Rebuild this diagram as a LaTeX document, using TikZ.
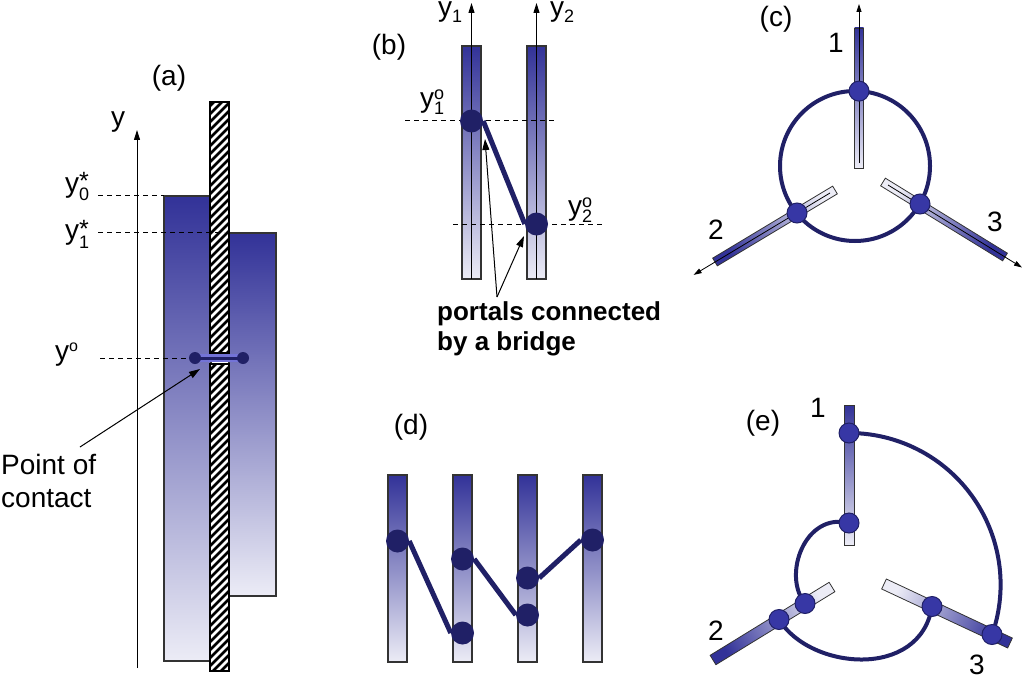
\documentclass[tikz,border=0pt]{standalone}
\usepackage{fontspec}
\setmainfont{Liberation Sans}
\usetikzlibrary{arrows.meta,calc}
\definecolor{dkb}{RGB}{50,50,152}
\definecolor{ltb}{RGB}{236,236,246}
\definecolor{navy}{RGB}{32,32,102}
\definecolor{dotb}{RGB}{55,55,165}
\definecolor{barl}{RGB}{115,115,215}
\newcommand\smallfs{\fontsize{18}{18}\selectfont}
\newcommand\starfs{\fontsize{25}{25}\selectfont}
\newcommand\slantbar[4]{%
  \path[barstyle,shading angle=#4] ($(#1)!#3!90:(#2)$) -- ($(#1)!#3!-90:(#2)$) -- ($(#2)!#3!90:(#1)$) -- ($(#2)!#3!-90:(#1)$) -- cycle;}
\begin{document}
\begin{tikzpicture}[x=1pt,y=-1pt,
  lbl/.style={inner sep=0pt,font=\fontsize{28}{30}\selectfont},
  blbl/.style={inner sep=0pt,font=\fontsize{26}{28}\selectfont\bfseries},
  gradbox/.style={draw=black!80,line width=1.2pt,top color=dkb,bottom color=ltb},
  barstyle/.style={draw=black!80,line width=0.8pt,top color=dkb,bottom color=ltb},
  dashln/.style={dash pattern=on 5pt off 4pt,line width=1pt},
  axarrow/.style={line width=1pt,-{Triangle[length=10pt,width=6pt]}},
  axsmall/.style={line width=0.8pt,-{Triangle[length=8pt,width=5pt]}},
  pointer/.style={line width=1pt,-{Triangle[length=11pt,width=7pt]}},
  portal/.style={circle,fill=navy,minimum size=23pt,inner sep=0pt},
  joint/.style={circle,fill=dotb,draw=navy,line width=1pt,minimum size=20pt,inner sep=0pt},
  tinydot/.style={circle,fill=navy,minimum size=12pt,inner sep=0pt},
  bridge/.style={navy,line width=5pt},
  loopln/.style={navy,line width=4pt},
]
\useasboundingbox (0,0) rectangle (1024,679);

% ---------------- (a)
\node[lbl] (la) at (169,78) {(a)};
\draw[axarrow] (137,668) -- (137,130);
\node[lbl] (ly) at (118,122) {y};
\path[gradbox] (164,196) rectangle (211,661);
\path[gradbox] (229,233) rectangle (276,596);
\draw[dashln] (98,195) -- (164,195);
\foreach \ya/\yb in {102/353,364/671}{
  \fill[white] (210,\ya) rectangle (229,\yb);
  \begin{scope}
    \clip (210,\ya) rectangle (229,\yb);
    \foreach \k in {0,...,77} \draw[line width=2.8pt] (205,{95+8*\k}) -- (235,{65+8*\k});
  \end{scope}
  \draw[line width=1.2pt] (210,\ya) rectangle (229,\yb);
}
\draw[dashln] (98,232) -- (224,232);
\draw[dashln] (100,358) -- (195,358);
\node[lbl,anchor=base west] (ly0) at (65,192) {y\rlap{\raisebox{-9pt}{\smallfs 0}}\raisebox{2pt}{\starfs *}};
\node[lbl,anchor=base west] (ly1) at (65,239) {y\rlap{\raisebox{-9pt}{\smallfs 1}}\raisebox{2pt}{\starfs *}};
\node[lbl,anchor=base west] (lyo) at (55,360) {y\raisebox{9pt}{\fontsize{16}{16}\selectfont o}};
\coordinate (ca) at (195,358);
\coordinate (cb) at (243,358);
\draw[barl,line width=8pt] (ca) -- (cb);
\draw[navy,line width=3pt] (ca) -- (cb);
\node[tinydot] (cda) at (ca) {};
\node[tinydot] (cdb) at (cb) {};
\coordinate (poc) at (80,447);
\coordinate (pocTip) at (200,369);
\draw[pointer] (poc) -- (pocTip);
\node[lbl,anchor=base west] (t1) at (1,474) {Point of};
\node[lbl,anchor=base west] (t2) at (1,507) {contact};

% ---------------- (b)
\node[lbl] (lb) at (389,47) {(b)};
\path[gradbox] (462,46) rectangle (481,279);
\path[gradbox] (527,46) rectangle (546,279);
\draw[axarrow] (471.5,279) -- (471.5,3);
\draw[axarrow] (536.5,279) -- (536.5,3);
\node[lbl,anchor=base west] (ly1b) at (438,17) {y\raisebox{-6pt}{\smallfs 1}};
\node[lbl,anchor=base west] (ly2b) at (550,17) {y\raisebox{-6pt}{\smallfs 2}};
\draw[dashln] (405,121) -- (557,121);
\draw[dashln] (453,224) -- (605,224);
\node[lbl,anchor=base west] (lyo1) at (420,108) {y\rlap{\raisebox{-7pt}{\smallfs 1}}\raisebox{8pt}{\smallfs o}};
\node[lbl,anchor=base west] (lyo2) at (568,215) {y\rlap{\raisebox{-7pt}{\smallfs 2}}\raisebox{8pt}{\smallfs o}};
\node[portal] (p1) at (471.5,121) {};
\node[portal] (p2) at (536.5,224) {};
\draw[bridge] (p1.east) -- (p2.west);
\coordinate (pt) at (497,297);
\coordinate (pt1) at (485,139);
\coordinate (pt2) at (524,236);
\draw[pointer] (pt) -- (pt1);
\draw[pointer] (pt) -- (pt2);
\node[blbl,anchor=base west] (tp1) at (437,320) {portals connected};
\node[blbl,anchor=base west] (tp2) at (437,350) {by a bridge};

% ---------------- (c)
\node[lbl] (lc) at (776,19) {(c)};
\slantbar{859,168}{859,28}{4.5pt}{0}
\slantbar{835,190}{715,262}{4.5pt}{121}
\slantbar{883,182}{1005,257}{4.5pt}{238.4}
\draw[axsmall] (859,163) -- (859,4);
\draw[axsmall] (830,193) -- (693.6,274.9);
\draw[axsmall] (888,185) -- (1022,267.5);
\node[draw=navy,line width=4pt,circle,minimum size=150pt,inner sep=0pt] (ring) at (855,166) {};
\node[joint] (j1) at (859,91.1) {};
\node[joint] (j2) at (797,213) {};
\node[joint] (j3) at (920,204) {};
\node[lbl] (n1c) at (836,43) {1};
\node[lbl] (n2c) at (716,230) {2};
\node[lbl] (n3c) at (995,222) {3};

% ---------------- (d)
\node[lbl] (ld) at (411,427) {(d)};
\foreach \x in {397.5,462.5,527.5,592.5} \path[gradbox] ({\x-9.5},475) rectangle ({\x+9.5},662);
\node[portal] (d1) at (397.5,541) {};
\node[portal] (d2a) at (462.5,559) {};
\node[portal] (d2b) at (462.5,633) {};
\node[portal] (d3a) at (527.5,578) {};
\node[portal] (d3b) at (527.5,615) {};
\node[portal] (d4) at (592.5,540) {};
\draw[bridge] (d1.east) -- (d2b.west);
\draw[bridge] (d2a.east) -- (d3b.west);
\draw[bridge] (d3a.east) -- (d4.west);

% ---------------- (e)
\node[lbl] (le) at (763,423) {(e)};
\slantbar{849,545}{849,405}{5pt}{0}
\slantbar{832,587}{713,660}{5.5pt}{121.5}
\slantbar{884,584}{1010,643}{5.5pt}{245}
\coordinate (e1a) at (849,433);
\coordinate (e1b) at (849,523);
\coordinate (e2a) at (779,619.5);
\coordinate (e2b) at (805,603.5);
\coordinate (e3a) at (932,606.5);
\coordinate (e3b) at (992,634.5);
\draw[loopln] plot[domain=270:379.4,samples=80] ({849+151.6*cos(\x)},{584.6+151.6*sin(\x)});
\draw[loopln] (e1b) .. controls (805,512) and (782,575) .. (e2b);
\draw[loopln] (e2a) .. controls (810,670) and (920,680) .. (e3a);
\foreach \n in {e1a,e1b,e2a,e2b,e3a,e3b} \node[joint] (d\n) at (\n) {};
\node[lbl] (n1e) at (818,408) {1};
\node[lbl] (n2e) at (716,631) {2};
\node[lbl] (n3e) at (977,665) {3};
\end{tikzpicture}
\end{document}
